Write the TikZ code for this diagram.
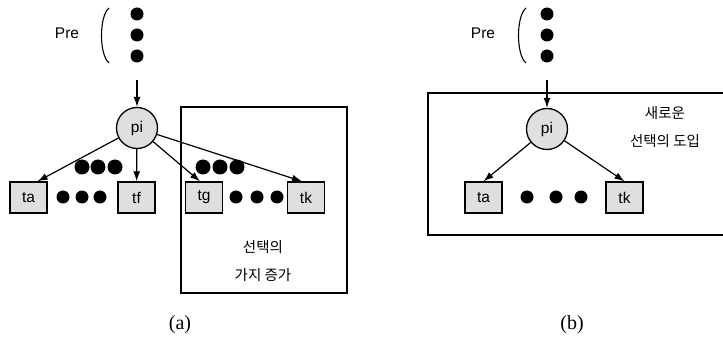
\documentclass[tikz,border=0pt]{standalone}
\usepackage{fontspec}
\setmainfont{Liberation Sans}
\newfontfamily\krfont{Noto Sans CJK KR}
\newfontfamily\capfont{Liberation Serif}
\usetikzlibrary{arrows.meta}
\begin{document}
\begin{tikzpicture}[x=1pt,y=-1pt,
  lbl/.style={font=\fontsize{15.5}{17}\selectfont},
  kr/.style={font=\krfont\fontsize{14.5}{28}\selectfont, align=center},
  task/.style={draw, line width=1.3pt, fill=gray!25, minimum width=37pt, minimum height=31pt, inner sep=0pt, font=\fontsize{15.5}{17}\selectfont},
  proc/.style={draw, line width=1.3pt, circle, fill=gray!25, minimum size=41pt, inner sep=0pt, font=\fontsize{15.5}{17}\selectfont},
  dotb/.style={fill=black},
  arr/.style={-{Latex[length=10pt,width=7pt]}, line width=1.2pt},
  frame/.style={line width=1.3pt},
  caplabel/.style={font=\capfont\fontsize{20}{22}\selectfont}]
\useasboundingbox (0,0) rectangle (723,339);

% ---------- (a) ----------
\node[lbl] (preA) at (67,33) {Pre};
\draw[line width=1.1pt] (109,8) .. controls (99,16) and (99,55) .. (109,63);
\fill[dotb] (137,14) circle (6.5) (137,35) circle (6.5) (137,56) circle (6.5);
\coordinate (srcA) at (137,80);
\node[proc] (piA) at (137,128) {pi};
\draw[arr] (srcA) -- (piA);

\draw[frame] (181,107) rectangle (347,293);

\node[task] (ta) at (28.5,197.5) {ta};
\node[task] (tf) at (136.5,197.5) {tf};
\node[task] (tg) at (204,197.5) {tg};
\node[task] (tk) at (306,197.5) {tk};

\fill[dotb] (82,167) circle (7.5) (98,167) circle (7.5) (115,167) circle (7.5);
\fill[dotb] (203,167) circle (7.5) (220,167) circle (7.5) (237,167) circle (7.5);
\fill[dotb] (63,197) circle (6.5) (82,197) circle (6.5) (100,197) circle (6.5);
\fill[dotb] (236,197) circle (6.5) (257,197) circle (6.5) (277,197) circle (6.5);

\draw[arr] (piA) -- ([xshift=-10pt]ta.north east);
\draw[arr] (piA) -- (tf);
\draw[arr] (piA) -- ([xshift=-4pt]tg.north);
\draw[arr] (piA) -- ([xshift=-4pt]tk.north);

\node[kr] (krA) at (263,261) {선택의\\가지 증가};
\node[caplabel] (capA) at (180,325) {(a)};

% ---------- (b) ----------
\node[lbl] (preB) at (483,33) {Pre};
\draw[line width=1.1pt] (526,8) .. controls (516,16) and (516,55) .. (526,63);
\fill[dotb] (547,14) circle (6.5) (547,35) circle (6.5) (547,56) circle (6.5);
\coordinate (srcB) at (547,80);
\node[proc] (piB) at (547,129) {pi};
\draw[arr] (srcB) -- (piB);

\draw[frame] (723,93) -- (428,93) -- (428,235) -- (723,235);

\node[task] (taB) at (483.5,197.5) {ta};
\node[task] (tkB) at (624.5,197.5) {tk};
\fill[dotb] (527,197) circle (6.5) (556,197) circle (6.5) (581,197) circle (6.5);

\draw[arr] (piB) -- (taB.north);
\draw[arr] (piB) -- (tkB.north);

\node[kr] (krB) at (665,127) {새로운\\선택의 도입};
\node[caplabel] (capB) at (572,325) {(b)};
\end{tikzpicture}
\end{document}
